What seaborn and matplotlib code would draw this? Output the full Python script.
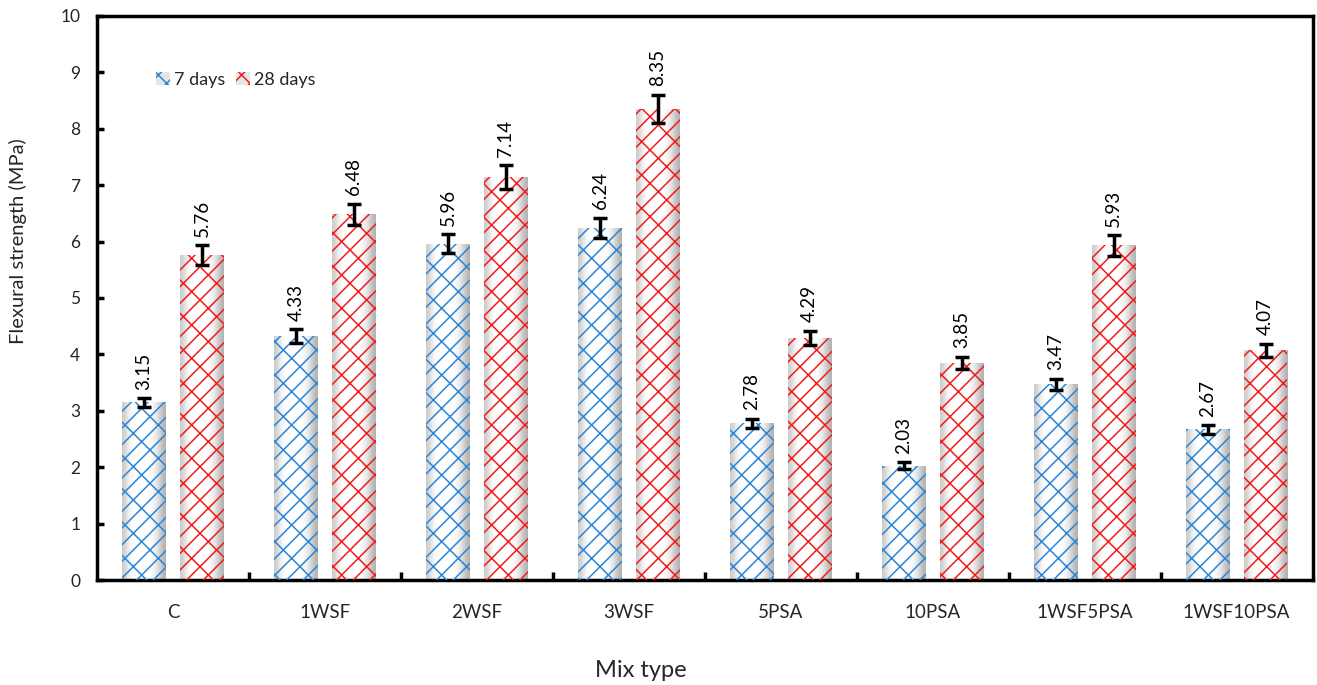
import numpy as np
import pandas as pd
import seaborn as sns
import matplotlib.pyplot as plt
from matplotlib.patches import Patch

# Data
mixes = ["C", "1WSF", "2WSF", "3WSF", "5PSA", "10PSA", "1WSF5PSA", "1WSF10PSA"]
strength_7d = [3.15, 4.33, 5.96, 6.24, 2.78, 2.03, 3.47, 2.67]
strength_28d = [5.76, 6.48, 7.14, 8.35, 4.29, 3.85, 5.93, 4.07]
err_7d = [0.08, 0.12, 0.17, 0.18, 0.08, 0.06, 0.10, 0.08]
err_28d = [0.17, 0.19, 0.21, 0.25, 0.13, 0.11, 0.18, 0.12]
ages = ["7 days", "28 days"]

sns.set_theme(style="white")
plt.rcParams["font.family"] = ["Lato", "DejaVu Sans"]

df = pd.DataFrame({
    "Mix": mixes * 2,
    "Age": [ages[0]] * len(mixes) + [ages[1]] * len(mixes),
    "Strength": strength_7d + strength_28d,
})

hatch_colors = {"7 days": "#2a86d8", "28 days": "#f21c1c"}
bar_hatch = "//\\"
plt.rcParams["hatch.linewidth"] = 1.1

fig = plt.figure(figsize=(13.17, 6.85), dpi=100)
ax = fig.add_axes([0.0737, 0.153, 0.923, 0.824])

sns.barplot(data=df, x="Mix", y="Strength", hue="Age", hue_order=ages,
            palette=hatch_colors, width=0.76, gap=0.24, errorbar=None,
            legend=False, ax=ax)

# gradient "cylinder" fill + hatch on every bar
grad = np.array([[0.8, 0.92, 0.99, 1.0, 1.0, 1.0, 1.0, 0.98, 0.92, 0.82, 0.7]])
errs = {ages[0]: err_7d, ages[1]: err_28d}
vals = {ages[0]: strength_7d, ages[1]: strength_28d}
bar_containers = list(ax.containers)
for age, cont in zip(ages, bar_containers):
    col = hatch_colors[age]
    xs = []
    for bar in cont:
        x0, w, h = bar.get_x(), bar.get_width(), bar.get_height()
        xs.append(x0 + w / 2)
        bar.set_facecolor("none")
        bar.set_edgecolor(col)
        bar.set_linewidth(0)
        bar.set_hatch(bar_hatch)
        bar.set_zorder(3)
        im = ax.imshow(grad, cmap="gray", vmin=0, vmax=1, aspect="auto",
                       extent=[x0, x0 + w, 0, h], interpolation="bicubic", zorder=2)
        im.set_clip_path(bar)
    ax.errorbar(xs, vals[age], yerr=errs[age], fmt="none", ecolor="black",
                elinewidth=2.5, capsize=5, capthick=2.5, zorder=5)
    for x, v, e in zip(xs, vals[age], errs[age]):
        ax.annotate(f"{v:.2f}", xy=(x, v + e), xytext=(0, 6),
                    textcoords="offset points", rotation=90,
                    rotation_mode="anchor", ha="left", va="center",
                    fontsize=13.5, color="black", zorder=6)

ax.set_xlim(-0.5, len(mixes) - 0.5)
ax.set_ylim(0, 10)
ax.set_yticks(range(0, 11))
ax.set_xticks(range(len(mixes)))
ax.set_xticklabels(mixes)
ax.set_xticks(np.arange(0.5, len(mixes) - 0.5, 1), minor=True)
ax.tick_params(axis="x", which="major", length=0, pad=17, labelsize=13.5)
ax.tick_params(axis="x", which="minor", direction="in", length=6, width=2.5,
               color="black", bottom=True)
ax.tick_params(axis="y", direction="in", length=5, width=2.5, color="black",
               left=True, pad=12, labelsize=12.5)

for side in ["left", "bottom", "top", "right"]:
    ax.spines[side].set_visible(True)
    ax.spines[side].set_color("black")
    ax.spines[side].set_linewidth(2.5)

ax.set_xlabel("Mix type", fontsize=17, va="center")
ax.xaxis.set_label_coords(0.447, -0.16)
ax.set_ylabel("Flexural strength (MPa)", fontsize=14.5, va="center")
ax.yaxis.set_label_coords(-0.065, 0.60)

handles = [Patch(facecolor="#e6e6e6", edgecolor=hatch_colors[a], hatch="xx",
                 linewidth=0, label=a) for a in ages]
ax.legend(handles=handles, loc="upper left", bbox_to_anchor=(0.035, 0.93),
          ncol=2, frameon=False, fontsize=13, handlelength=0.8,
          handleheight=0.8, handletextpad=0.2, columnspacing=0.6)

fig.savefig("out.png", dpi=100)
